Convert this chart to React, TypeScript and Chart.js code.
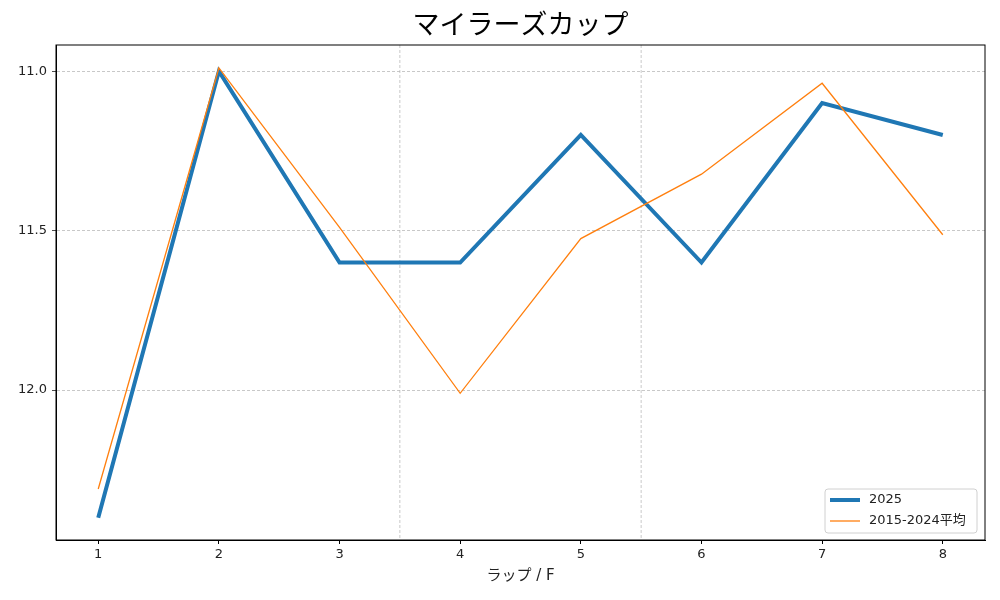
import { useEffect, useRef } from "react";
import { Chart, registerables } from "chart.js";

Chart.register(...registerables);

const laps = [1, 2, 3, 4, 5, 6, 7, 8];
const lap2025 = [12.4, 11.0, 11.6, 11.6, 11.2, 11.6, 11.1, 11.2];
const lapAverage = [12.31, 10.99, 11.49, 12.01, 11.525, 11.323, 11.038, 11.513];
const yTicks = [11.0, 11.5, 12.0];
const sectionLines = [3.5, 5.5];

const FONT = "'DejaVu Sans', 'Noto Sans CJK JP', sans-serif";
const JP_FONT = "'Noto Sans CJK JP', sans-serif";

const framePlugin = {
  id: "frame",
  beforeDatasetsDraw(chart: any) {
    const { ctx, chartArea, scales } = chart;
    ctx.save();
    ctx.strokeStyle = "#b0b0b0";
    ctx.lineWidth = 0.7;
    ctx.setLineDash([3, 2]);
    sectionLines.forEach((v) => {
      const x = scales.x.getPixelForValue(v);
      ctx.beginPath();
      ctx.moveTo(x, chartArea.top);
      ctx.lineTo(x, chartArea.bottom);
      ctx.stroke();
    });
    ctx.restore();
  },
  afterDraw(chart: any) {
    const { ctx, chartArea } = chart;
    ctx.save();
    ctx.strokeStyle = "#000";
    ctx.lineWidth = 1;
    ctx.strokeRect(chartArea.left, chartArea.top, chartArea.right - chartArea.left, chartArea.bottom - chartArea.top);

    // title
    ctx.fillStyle = "#000";
    ctx.font = `27px ${JP_FONT}`;
    ctx.textAlign = "center";
    ctx.textBaseline = "middle";
    ctx.fillText("マイラーズカップ", (chartArea.left + chartArea.right) / 2, 24);

    // legend
    const w = 152;
    const h = 44;
    const x0 = chartArea.right - 8 - w;
    const y0 = chartArea.bottom - 7 - h;
    ctx.fillStyle = "rgba(255,255,255,0.8)";
    ctx.strokeStyle = "#d0d0d0";
    ctx.lineWidth = 1;
    ctx.beginPath();
    ctx.roundRect(x0, y0, w, h, 3);
    ctx.fill();
    ctx.stroke();
    const items = chart.data.datasets.slice().sort((a: any, b: any) => b.order - a.order);
    items.forEach((ds: any, i: number) => {
      const yy = y0 + 11 + i * 21;
      ctx.strokeStyle = ds.borderColor;
      ctx.lineWidth = ds.borderWidth;
      ctx.beginPath();
      ctx.moveTo(x0 + 5, yy);
      ctx.lineTo(x0 + 35, yy);
      ctx.stroke();
      ctx.fillStyle = "#222";
      ctx.font = `13px ${FONT}`;
      ctx.textAlign = "left";
      ctx.fillText(ds.label, x0 + 44, yy);
    });
    ctx.restore();
  },
};

const App = () => {
  const canvasRef = useRef<HTMLCanvasElement>(null);

  useEffect(() => {
    const ctx = canvasRef.current!.getContext("2d")!;
    const chart = new Chart(ctx, {
      type: "line",
      data: {
        datasets: [
          {
            label: "2025",
            data: laps.map((x, i) => ({ x, y: lap2025[i] })),
            borderColor: "#1f77b4",
            borderWidth: 4,
            pointRadius: 0,
            order: 1,
          },
          {
            label: "2015-2024平均",
            data: laps.map((x, i) => ({ x, y: lapAverage[i] })),
            borderColor: "#ff7f0e",
            borderWidth: 1.3,
            pointRadius: 0,
            order: 0,
          },
        ],
      },
      options: {
        animation: false,
        responsive: false,
        layout: { padding: { left: 0, top: 45, right: 15, bottom: 0 } },
        plugins: { legend: { display: false }, tooltip: { enabled: false }, title: { display: false } },
        scales: {
          x: {
            type: "linear",
            min: 0.65,
            max: 8.35,
            afterBuildTicks: (scale: any) => {
              scale.ticks = laps.map((v) => ({ value: v }));
            },
            afterFit: (scale: any) => {
              scale.height = 60;
            },
            grid: { drawOnChartArea: false, tickLength: 4, tickColor: "#000" },
            border: { color: "#000" },
            ticks: { color: "#222", font: { family: FONT, size: 13 }, padding: 3, callback: (v: any) => String(v) },
            title: { display: true, text: "ラップ / F", color: "#222", font: { family: FONT, size: 15 }, padding: { top: 0, bottom: 15 } },
          },
          y: {
            type: "linear",
            reverse: true,
            min: 10.918,
            max: 12.47,
            afterBuildTicks: (scale: any) => {
              scale.ticks = yTicks.map((v) => ({ value: v }));
            },
            afterFit: (scale: any) => {
              scale.width = 56;
            },
            grid: { color: "#b0b0b0", lineWidth: 0.7, tickLength: 4, tickColor: "#000", tickBorderDash: [] } as any,
            border: { color: "#000", dash: [3, 2] } as any,
            ticks: { color: "#222", font: { family: FONT, size: 13 }, padding: 5, callback: (v: any) => Number(v).toFixed(1) },
          },
        },
      },
      plugins: [framePlugin],
    });
    return () => {
      chart.destroy();
    };
  }, []);

  return (
    <div style={{ position: "fixed", left: 0, top: 0, width: 1000, height: 600, background: "#fff" }}>
      <canvas ref={canvasRef} width={1000} height={600} style={{ width: 1000, height: 600 }}></canvas>
    </div>
  );
};

export default App;
